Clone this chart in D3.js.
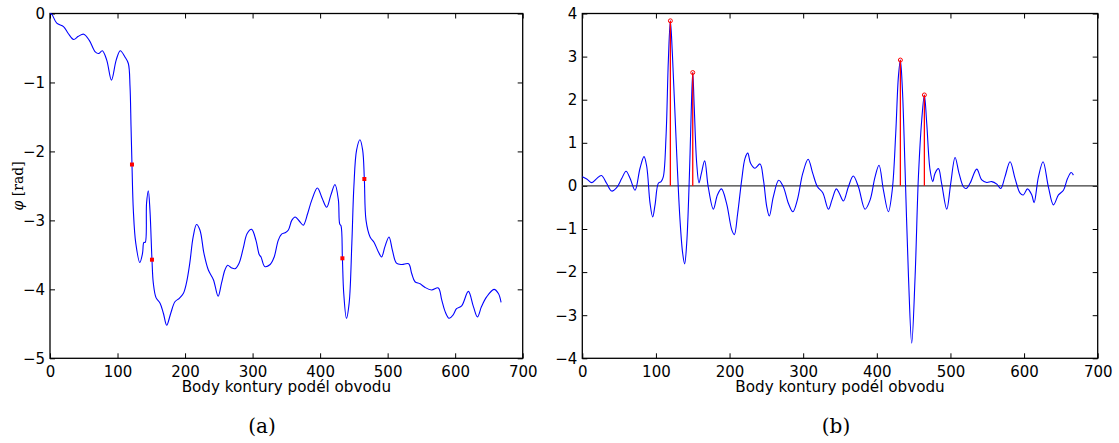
<!DOCTYPE html>
<html><head><meta charset="utf-8">
<script src="https://cdn.jsdelivr.net/npm/d3@7"></script>
<style>
body{margin:0;background:#fff;}
svg{display:block;}
.tick text{font-family:"DejaVu Sans",sans-serif;font-size:15px;fill:#000;}
</style></head>
<body>
<svg id="c" width="1119" height="443"></svg>
<script>
// ---- data ----
const xTicks = [0,100,200,300,400,500,600,700];
const leftYTicks = [0,-1,-2,-3,-4,-5];
const rightYTicks = [4,3,2,1,0,-1,-2,-3,-4];
const xLabel = "Body kontury podél obvodu";
const leftYLabelSym = "φ";
const leftYLabelUnit = " [rad]";
const captions = ["(a)","(b)"];

const leftX = [0,2.5,10,20,27,35,42,50,58,67,72,77.5,84,91,98,104,111,116,118.5,120,121.4,123.4,127,133,137,139,141,143,145.6,148,151,153,157,163,168,172.8,178.7,185,191.5,197.4,202,207,212,217,222,228,234.5,242,249,254,259,263,269,274,280,286,292,298.6,305,310,312.5,318,326,332,338,343,348,353,358,363,370,375,381.6,387.5,396,403,409.7,416,422,427,429,431,433,435,439,443,447,450,454,459,463,465.5,468,474,480,486,491,496,502,507,513,521,531,535.6,540.5,548,555,565,575,580,585,591,597,602,609.6,619.5,627,633,639,646.6,657.5,664,668];
const leftPhi = [0,-0.01,-0.14,-0.19,-0.29,-0.377,-0.33,-0.30,-0.386,-0.556,-0.58,-0.54,-0.676,-0.966,-0.676,-0.54,-0.63,-0.725,-1.06,-1.64,-2.19,-2.85,-3.33,-3.61,-3.48,-3.32,-3.32,-2.75,-2.57,-2.85,-3.57,-3.91,-4.12,-4.20,-4.35,-4.52,-4.35,-4.18,-4.13,-4.06,-3.91,-3.62,-3.24,-3.06,-3.14,-3.48,-3.72,-3.86,-4.10,-3.91,-3.72,-3.65,-3.69,-3.70,-3.62,-3.41,-3.19,-3.13,-3.29,-3.50,-3.53,-3.67,-3.64,-3.53,-3.29,-3.20,-3.18,-3.14,-3.0,-2.95,-3.02,-3.07,-2.90,-2.71,-2.53,-2.68,-2.81,-2.63,-2.48,-2.70,-3.05,-3.08,-3.55,-4.06,-4.42,-4.20,-3.33,-2.51,-1.98,-1.83,-1.98,-2.40,-3.0,-3.24,-3.32,-3.45,-3.53,-3.38,-3.24,-3.43,-3.62,-3.64,-3.63,-3.77,-3.89,-3.92,-3.97,-4.01,-3.98,-4.15,-4.32,-4.42,-4.37,-4.28,-4.24,-4.03,-4.25,-4.40,-4.25,-4.11,-4.0,-4.06,-4.19];

const rightX = [0,6,13,19.5,26,33,40,46.7,53.5,59.4,65,71.6,78.4,83.8,87.5,92,95.6,98.8,103.3,107,110,113.7,116.9,119.6,122.3,128.2,132.7,136.3,139,141.8,145.4,148,150,152,155.4,158.5,161.7,166.2,171,178,183.5,189,196,203,206.5,211,216.5,221,224.7,228.7,234.6,241.4,246,250.5,254,259.5,266.8,273,280,286,292,299.4,306.7,313,319.4,326.6,334.3,339,345,349,354.6,361.4,368,375,384,390.8,397.6,403,409,415.7,421,425.7,429.3,432,434.8,438.4,443,447.4,452,456.5,461,464.6,467.8,472.3,476,479,483.7,488,495,500.4,506.3,511.7,517.6,521.3,526.6,535.7,542.5,549.3,556,563,568.3,574,581,587.8,594.6,599,604.6,610.5,613.6,619.5,625.8,633,639.9,646.7,653.5,659,664,667];
const rightVal = [0.21,0.16,0.075,0.17,0.24,0.06,-0.12,-0.04,0.17,0.34,0.17,-0.1,0.41,0.68,0.45,-0.4,-0.72,-0.44,0.06,0.1,0.21,1.14,2.92,3.83,3.08,0.75,-0.79,-1.56,-1.81,-1.33,0.21,1.76,2.63,1.84,0.52,0.07,0.29,0.58,-0.02,-0.54,-0.21,-0.07,-0.41,-1.02,-1.13,-0.64,0.14,0.64,0.76,0.52,0.41,0.51,0.14,-0.48,-0.70,-0.25,0.13,-0.02,-0.41,-0.60,-0.33,0.29,0.62,0.29,-0.02,-0.16,-0.54,-0.33,-0.07,-0.17,-0.35,-0.02,0.23,-0.02,-0.54,-0.33,0.21,0.48,-0.1,-0.6,-0.09,1.22,2.53,2.92,2.22,0.37,-2.1,-3.65,-2.1,0.21,1.53,2.11,1.45,0.37,0.1,0.29,0.40,0.06,-0.54,0.06,0.66,0.29,-0.02,-0.06,0.06,0.39,0.14,0.08,0.1,0.04,-0.06,0.21,0.56,0.17,-0.17,-0.21,-0.07,-0.21,-0.39,0.21,0.56,-0.02,-0.44,-0.21,-0.1,0.17,0.31,0.25];

const leftMarkX = [121.4,151,433,465.5];
const leftMarkY = [-2.19,-3.57,-3.55,-2.40];
const peakX = [119.6,150,432,464.6];
const peakY = [3.83,2.63,2.92,2.11];

// ---- drawing ----
const svg = d3.select("#c");
const yTop = 13.5, yBot = 358.3;
const fmt = v => (v < 0 ? "\u2212" + Math.abs(v) : String(v));

function panel(x0, x1, yDom, yTicks) {
  const g = svg.append("g");
  const x = d3.scaleLinear().domain([0,700]).range([x0,x1]);
  const y = d3.scaleLinear().domain(yDom).range([yBot, yTop]);
  const tl = 5;
  const ax = g.append("g").attr("transform",`translate(0,${yBot})`)
    .call(d3.axisBottom(x).tickValues(xTicks).tickSize(-tl).tickPadding(7.5).tickFormat(fmt));
  ax.selectAll("text").attr("dy","0.72em");
  g.append("g").attr("transform",`translate(0,${yTop})`)
    .call(d3.axisTop(x).tickValues(xTicks).tickSize(-tl).tickFormat(""));
  g.append("g").attr("transform",`translate(${x0},0)`)
    .call(d3.axisLeft(y).tickValues(yTicks).tickSize(-tl).tickPadding(5).tickFormat(fmt));
  g.append("g").attr("transform",`translate(${x1},0)`)
    .call(d3.axisRight(y).tickValues(yTicks).tickSize(-tl).tickFormat(""));
  g.selectAll(".domain").remove();
  g.selectAll(".tick line").attr("stroke","#000").attr("stroke-width",1);
  g.append("rect").attr("x",x0).attr("y",yTop).attr("width",x1-x0).attr("height",yBot-yTop)
    .attr("fill","none").attr("stroke","#000").attr("stroke-width",1.3);
  g.append("text").attr("x",(x0+x1)/2).attr("y",yBot+34).attr("text-anchor","middle")
    .attr("font-family","DejaVu Sans, sans-serif").attr("font-size",15.2).text(xLabel);
  return {g,x,y};
}

const line = (x,y) => d3.line().x(d=>x(d[0])).y(d=>y(d[1])).curve(d3.curveCatmullRom.alpha(0.5));

// left panel
const L = panel(50, 522.7, [-5,0], leftYTicks);
L.g.append("path").datum(leftX.map((v,i)=>[v,leftPhi[i]]))
  .attr("d", line(L.x,L.y)).attr("fill","none").attr("stroke","#0000ff").attr("stroke-width",1.1);
L.g.selectAll("rect.mk").data(leftMarkX).enter().append("rect").attr("class","mk")
  .attr("x",(d)=>L.x(d)-2).attr("y",(d,i)=>L.y(leftMarkY[i])-2).attr("width",4).attr("height",4)
  .attr("fill","#ff0000");
const yl = L.g.append("text").attr("transform",`translate(23,${(yTop+yBot)/2}) rotate(-90)`)
  .attr("text-anchor","middle").attr("font-family","DejaVu Serif, Liberation Serif, serif")
  .attr("font-size",14);
yl.append("tspan").attr("font-style","italic").text(leftYLabelSym);
yl.append("tspan").text(leftYLabelUnit);

// right panel
const R = panel(582.3, 1097.7, [-4,4], rightYTicks);
R.g.append("line").attr("x1",R.x(0)).attr("x2",R.x(700)).attr("y1",R.y(0)).attr("y2",R.y(0))
  .attr("stroke","#3a3a3a").attr("stroke-width",1.2);
R.g.append("path").datum(rightX.map((v,i)=>[v,rightVal[i]]))
  .attr("d", line(R.x,R.y)).attr("fill","none").attr("stroke","#0000ff").attr("stroke-width",1.1);
R.g.selectAll("line.stem").data(peakX).enter().append("line").attr("class","stem")
  .attr("x1",d=>R.x(d)).attr("x2",d=>R.x(d)).attr("y1",R.y(0)).attr("y2",(d,i)=>R.y(peakY[i]))
  .attr("stroke","#ff0000").attr("stroke-width",1.3);
R.g.selectAll("circle.pk").data(peakX).enter().append("circle").attr("class","pk")
  .attr("cx",d=>R.x(d)).attr("cy",(d,i)=>R.y(peakY[i])).attr("r",2)
  .attr("fill","none").attr("stroke","#ff0000").attr("stroke-width",1);

// captions
[[262,"(a)"],[836,"(b)"]].forEach((c,i)=>{
  svg.append("text").attr("x",c[0]).attr("y",433).attr("text-anchor","middle")
    .attr("font-family","DejaVu Serif, Liberation Serif, serif").attr("font-size",20).text(captions[i]);
});
</script>
</body></html>
